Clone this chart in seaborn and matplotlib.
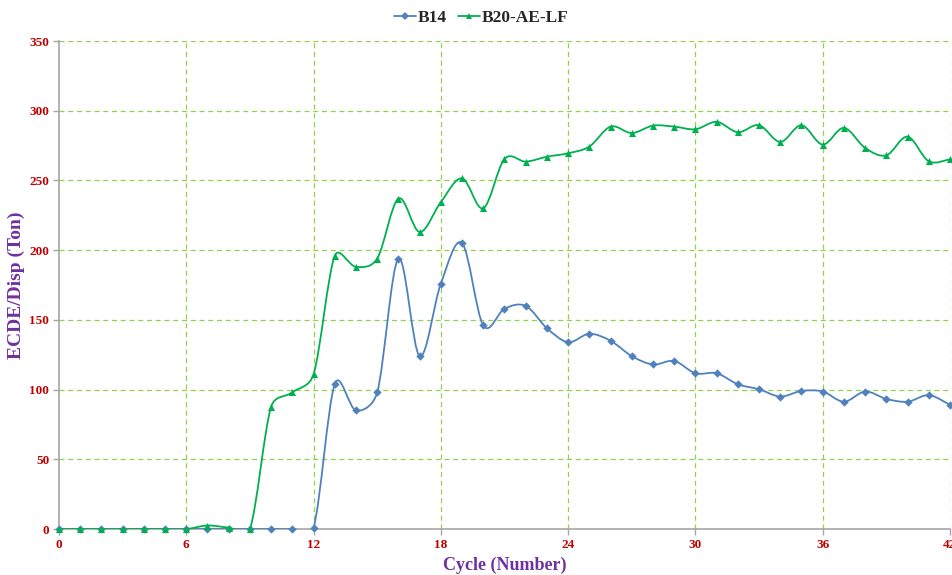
import numpy as np
import pandas as pd
import seaborn as sns
import matplotlib
matplotlib.use("Agg")
import matplotlib.pyplot as plt
from matplotlib.path import Path
from matplotlib.patches import PathPatch
from matplotlib.lines import Line2D

# ---- data -------------------------------------------------------------
cycles = list(range(0, 43))
b14 = [0, 0, 0, 0, 0, 0, 0, 0, 0, 0, 0, 0, 1,
       104, 85, 98, 194, 124, 176, 205, 146, 158, 160, 144, 134,
       140, 135, 124, 118, 120.5, 111.7, 111.7, 103.8, 100.2, 95, 99,
       98.6, 91.3, 98.6, 93.3, 91.3, 96, 89]
b20 = [0, 0, 0, 0, 0, 0, 0, 2.5, 1, 0, 87.7, 98, 111,
       196, 188, 194, 237, 213, 234.5, 251.5, 230, 265.4, 263.5, 267, 269.5,
       274.3, 288.6, 284, 289.3, 288.6, 286.7, 292, 284.6, 289.6, 277.6, 289.6,
       275.7, 287.7, 273.3, 268, 281.4, 263.7, 265.2]
series_names = ["B14", "B20-AE-LF"]
x_ticks = [0, 6, 12, 18, 24, 30, 36, 42]
y_ticks = [0, 50, 100, 150, 200, 250, 300, 350]

colors = {"B14": "#4F81BD", "B20-AE-LF": "#00B050"}
markers = {"B14": "D", "B20-AE-LF": "^"}
msize = {"B14": 18, "B20-AE-LF": 26}

df = pd.DataFrame({
    "Cycle": cycles * 2,
    "Value": b14 + b20,
    "Series": ["B14"] * len(cycles) + ["B20-AE-LF"] * len(cycles),
})

sns.set_theme(style="white")
plt.rcParams["font.family"] = ["Liberation Serif", "DejaVu Serif"]

fig = plt.figure(figsize=(9.53, 5.75), dpi=100)
ax = fig.add_axes([59 / 953, 1 - 529 / 575, (950 - 59) / 953, (529 - 41) / 575])
ax.set_xlim(0, 42)
ax.set_ylim(0, 350)


def smooth_path(xs, ys, ax, t=1 / 6):
    """Cubic Bezier path through the points, with tangent lengths limited
    in screen space so steep segments do not bulge too far."""
    data = np.column_stack([xs, ys]).astype(float)
    pts = ax.transData.transform(data)
    n = len(pts)
    verts = [pts[0]]
    codes = [Path.MOVETO]
    for i in range(n - 1):
        p0 = pts[i - 1] if i > 0 else pts[i]
        p1 = pts[i]
        p2 = pts[i + 1]
        p3 = pts[i + 2] if i + 2 < n else pts[i + 1]
        d12 = np.hypot(*(p2 - p1))
        v1 = (p2 - p0) * t
        v2 = (p3 - p1) * t
        l1, l2 = np.hypot(*v1), np.hypot(*v2)
        if l1 > d12 / 2 and l1 > 0:
            v1 *= d12 / 2 / l1
        if l2 > d12 / 2 and l2 > 0:
            v2 *= d12 / 2 / l2
        verts += [p1 + v1, p2 - v2, p2]
        codes += [Path.CURVE4] * 3
    verts = ax.transData.inverted().transform(np.array(verts))
    return Path(verts, codes)


# smoothed connecting lines, blue first so green sits on top
for name, z in (("B14", 2), ("B20-AE-LF", 4)):
    sub = df[df["Series"] == name]
    ax.add_patch(PathPatch(smooth_path(sub["Cycle"], sub["Value"], ax),
                           facecolor="none", edgecolor=colors[name],
                           lw=1.3, zorder=z))

for name, z in (("B14", 3), ("B20-AE-LF", 5)):
    sub = df[df["Series"] == name]
    sns.scatterplot(data=sub, x="Cycle", y="Value", ax=ax, color=colors[name],
                    marker=markers[name], s=msize[name], linewidth=0,
                    legend=False, zorder=z, clip_on=False)

ax.set_xlim(0, 42)
ax.set_ylim(0, 350)
ax.set_xticks(x_ticks)
ax.set_yticks(y_ticks)

grid_kw = dict(color="#92D050", lw=0.9, ls=(0, (4, 3)))
for yv in y_ticks[1:]:
    ax.axhline(yv, zorder=0, **grid_kw)
for xv in x_ticks[1:]:
    ax.axvline(xv, zorder=0, **grid_kw)

for s in ("top", "right"):
    ax.spines[s].set_visible(False)
for s in ("left", "bottom"):
    ax.spines[s].set_color("#A6A6A6")
    ax.spines[s].set_linewidth(1.2)
    ax.spines[s].set_zorder(1)

ax.tick_params(axis="both", which="major", length=4, width=1, color="#A6A6A6",
               labelcolor="#C00000", labelsize=9.5, direction="out", pad=3,
               bottom=True, left=True)
for lab in ax.get_xticklabels() + ax.get_yticklabels():
    lab.set_fontweight("bold")

ax.set_xlabel("Cycle (Number)", color="#7030A0", fontsize=13,
              fontweight="bold", labelpad=4)
ax.set_ylabel("ECDE/Disp (Ton)", color="#7030A0", fontsize=14,
              fontweight="bold", labelpad=3)

handles = [Line2D([], [], color=colors[n], marker=markers[n], lw=1.3,
                  markersize=4 if n == "B14" else 5, markeredgewidth=0)
           for n in series_names]
leg = fig.legend(handles, series_names, loc="upper center",
                 bbox_to_anchor=(0.505, 1.01), ncol=2, frameon=False,
                 prop={"weight": "bold", "size": 12.5}, handlelength=1.3,
                 handletextpad=0.1, columnspacing=0.6)

fig.savefig("out.png", dpi=100, facecolor="white")
